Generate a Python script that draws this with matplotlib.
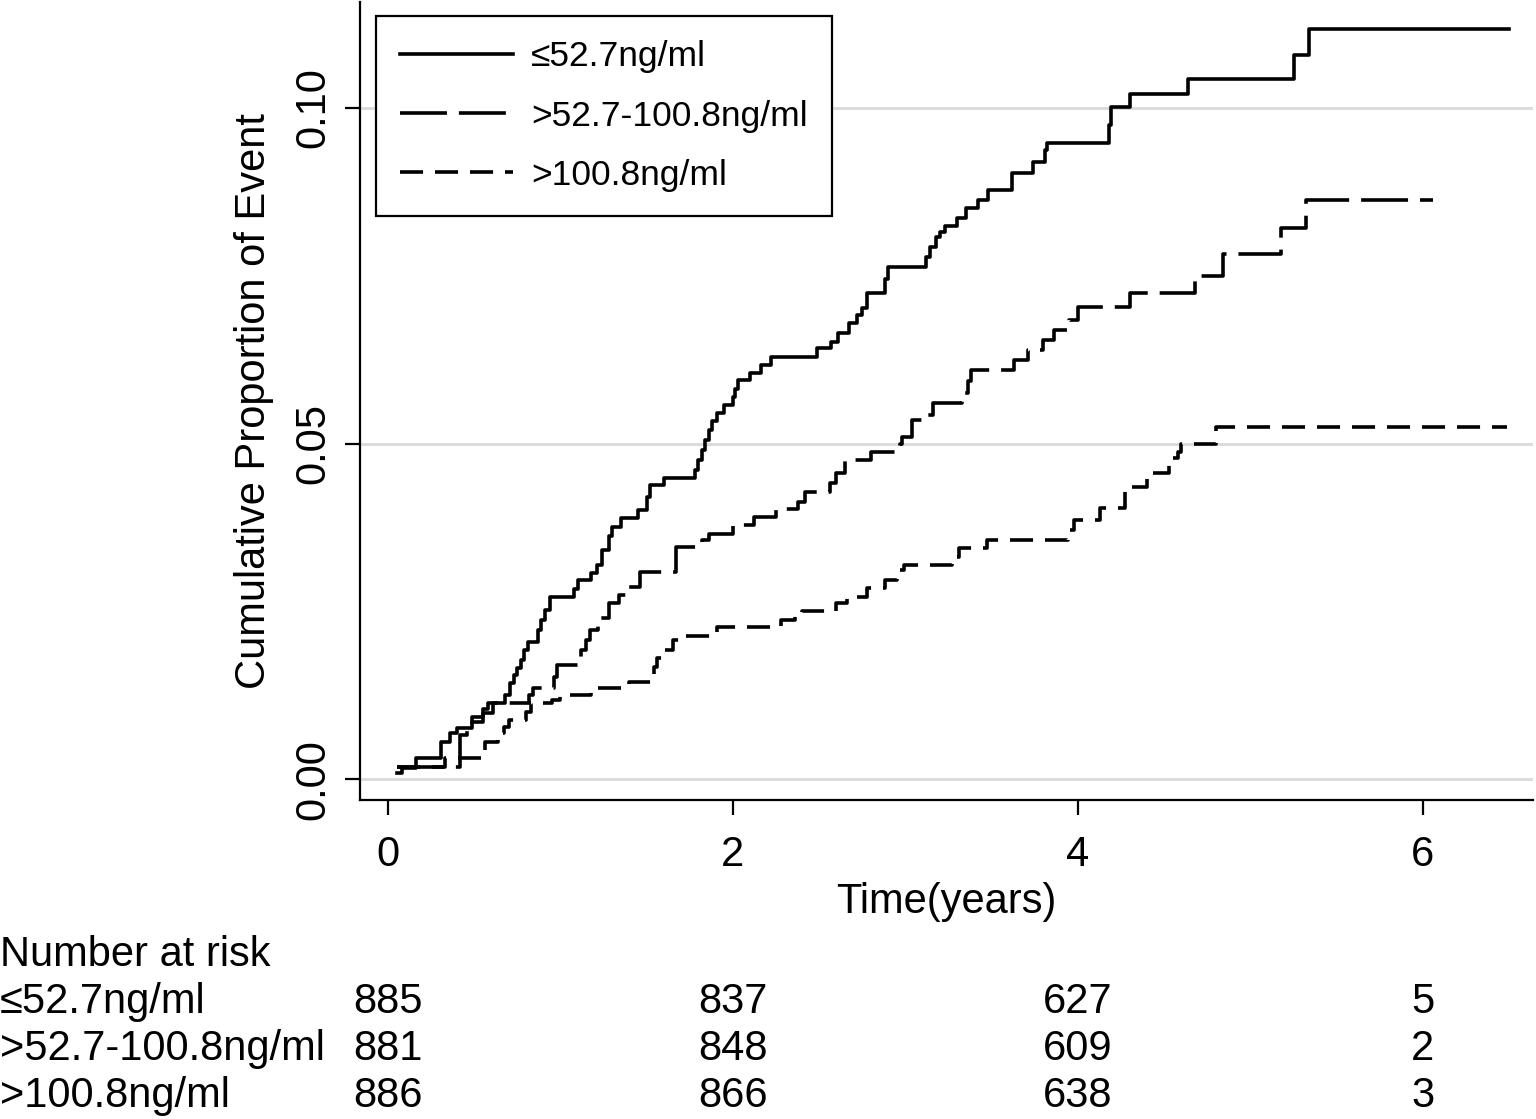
import numpy as np
import matplotlib
matplotlib.use("Agg")
import matplotlib.pyplot as plt
from matplotlib.transforms import blended_transform_factory

plt.rcParams['font.family'] = ['Liberation Sans', 'DejaVu Sans']
plt.rcParams['lines.scale_dashes'] = False

# cumulative proportion of event (time in years)
labels = ['≤52.7ng/ml', '>52.7-100.8ng/ml', '>100.8ng/ml']

t_low = [0.05, 0.08, 0.16, 0.31, 0.36, 0.40, 0.49, 0.55, 0.61, 0.68, 0.71, 0.73,
         0.75, 0.77, 0.79, 0.81, 0.87, 0.89, 0.91, 0.94, 1.08, 1.10, 1.18, 1.21,
         1.24, 1.28, 1.30, 1.35, 1.45, 1.50, 1.52, 1.60, 1.78, 1.80, 1.82, 1.84,
         1.86, 1.88, 1.91, 1.95, 2.00, 2.01, 2.03, 2.10, 2.16, 2.22, 2.49, 2.57,
         2.61, 2.67, 2.72, 2.75, 2.78, 2.88, 2.90, 3.12, 3.14, 3.18, 3.20, 3.23,
         3.30, 3.35, 3.42, 3.48, 3.62, 3.74, 3.81, 3.82, 4.18, 4.19, 4.30, 4.64,
         5.25, 5.34]
cum_low = [0.0009, 0.0016, 0.0031, 0.0055, 0.0069, 0.0076, 0.0085, 0.0098, 0.0113,
           0.0125, 0.0143, 0.0155, 0.0165, 0.0177, 0.0192, 0.0204, 0.0222, 0.0237,
           0.0252, 0.0271, 0.0283, 0.0297, 0.0307, 0.0319, 0.0341, 0.0362, 0.0376,
           0.0389, 0.0401, 0.0420, 0.0438, 0.0449, 0.0461, 0.0475, 0.0490, 0.0505,
           0.0520, 0.0533, 0.0545, 0.0557, 0.0570, 0.0582, 0.0595, 0.0605, 0.0617,
           0.0629, 0.0642, 0.0652, 0.0665, 0.0680, 0.0691, 0.0702, 0.0724, 0.0745,
           0.0763, 0.0778, 0.0793, 0.0808, 0.0816, 0.0824, 0.0836, 0.0851, 0.0863,
           0.0878, 0.0903, 0.0920, 0.0937, 0.0948, 0.0975, 0.1002, 0.1021, 0.1043,
           0.1079, 0.1118]
end_low = 6.50

t_mid = [0.05, 0.42, 0.46, 0.49, 0.55, 0.58, 0.82, 0.84, 0.96, 0.98, 1.11, 1.12,
         1.15, 1.17, 1.22, 1.28, 1.34, 1.40, 1.46, 1.67, 1.82, 1.86, 2.00, 2.12,
         2.25, 2.38, 2.42, 2.56, 2.60, 2.65, 2.80, 2.97, 2.98, 3.04, 3.11, 3.16,
         3.33, 3.36, 3.38, 3.63, 3.71, 3.80, 3.86, 3.95, 4.00, 4.30, 4.68, 4.84,
         5.18, 5.32]
cum_mid = [0.0018, 0.0066, 0.0080, 0.0092, 0.0105, 0.0113, 0.0125, 0.0136, 0.0152,
           0.0170, 0.0182, 0.0192, 0.0207, 0.0222, 0.0240, 0.0262, 0.0274, 0.0286,
           0.0309, 0.0346, 0.0356, 0.0366, 0.0379, 0.0391, 0.0403, 0.0413, 0.0428,
           0.0441, 0.0456, 0.0475, 0.0487, 0.0499, 0.0510, 0.0535, 0.0542, 0.0560,
           0.0575, 0.0594, 0.0609, 0.0624, 0.0639, 0.0654, 0.0669, 0.0684, 0.0703,
           0.0724, 0.0750, 0.0782, 0.0821, 0.0863]
end_mid = 6.06

t_high = [0.05, 0.33, 0.55, 0.56, 0.64, 0.67, 0.70, 0.80, 0.83, 0.95, 1.00, 1.18,
          1.22, 1.40, 1.54, 1.56, 1.59, 1.65, 1.72, 1.91, 2.28, 2.36, 2.40, 2.60,
          2.66, 2.78, 2.88, 2.95, 2.99, 3.27, 3.31, 3.47, 3.94, 3.98, 4.13, 4.27,
          4.40, 4.53, 4.58, 4.60, 4.80]
cum_high = [0.0018, 0.0031, 0.0043, 0.0055, 0.0069, 0.0078, 0.0088, 0.0100, 0.0113,
            0.0118, 0.0125, 0.0130, 0.0136, 0.0145, 0.0167, 0.0180, 0.0192, 0.0207,
            0.0213, 0.0227, 0.0237, 0.0245, 0.0250, 0.0262, 0.0271, 0.0285, 0.0297,
            0.0311, 0.0319, 0.0331, 0.0344, 0.0356, 0.0371, 0.0386, 0.0404, 0.0435,
            0.0456, 0.0478, 0.0488, 0.0499, 0.0525]
end_high = 6.49

# number at risk table
risk_times = [0, 2, 4, 6]
risk_low = [885, 837, 627, 5]
risk_mid = [881, 848, 609, 2]
risk_high = [886, 866, 638, 3]

fig = plt.figure(figsize=(15.36, 11.19), dpi=100)
ax = fig.add_axes([360 / 1536, 1 - 800 / 1119, 1173 / 1536, 798 / 1119])

styles = ['-', (0, (33.8, 8.6)), (0, (16.6, 8.6))]
curves = [(t_low, cum_low, end_low), (t_mid, cum_mid, end_mid), (t_high, cum_high, end_high)]
for (t, c, end), ls, lab in zip(curves, styles, labels):
    x = list(t) + [end]
    y = list(c) + [c[-1]]
    ax.step(x, y, where='post', color='black', lw=2.6, linestyle=ls, label=lab)

ax.set_xlim(-0.162, 6.638)
ax.set_ylim(-0.0031, 0.1158)
ax.set_xticks([0, 2, 4, 6])
ax.set_yticks([0, 0.05, 0.10])
ax.set_yticklabels(['0.00', '0.05', '0.10'], rotation=90, va='center')
ax.yaxis.grid(True, color='#dcdcdc', lw=2.2)
ax.set_axisbelow(True)
for s in ['top', 'right']:
    ax.spines[s].set_visible(False)
for s in ['left', 'bottom']:
    ax.spines[s].set_linewidth(1.6)
ax.tick_params(axis='both', length=11, width=1.6, labelsize=30, pad=8)
ax.tick_params(axis='x', pad=14)
ax.set_xlabel('Time(years)', fontsize=30, labelpad=5)
ax.set_ylabel('Cumulative Proportion of Event', fontsize=30, labelpad=14)

leg = ax.legend(loc='upper left', bbox_to_anchor=(0.0136, 0.982), borderaxespad=0,
                fontsize=25.5, handlelength=3.2, handletextpad=0.5, borderpad=0.68,
                labelspacing=0.74, fancybox=False, framealpha=1, edgecolor='black')
leg.get_frame().set_linewidth(1.6)

# number at risk table
tr = blended_transform_factory(ax.transData, fig.transFigure)
fig.text(0, 1 - 966 / 1119, 'Number at risk', fontsize=30, ha='left', va='baseline')
rows_y = [1 - 1013 / 1119, 1 - 1060 / 1119, 1 - 1107 / 1119]
for yy, lab, vals in zip(rows_y, labels, [risk_low, risk_mid, risk_high]):
    fig.text(0, yy, lab, fontsize=30, ha='left', va='baseline')
    for tt, v in zip(risk_times, vals):
        fig.text(tt, yy, str(v), fontsize=30, ha='center', va='baseline', transform=tr)

fig.savefig('out.png', dpi=100)
